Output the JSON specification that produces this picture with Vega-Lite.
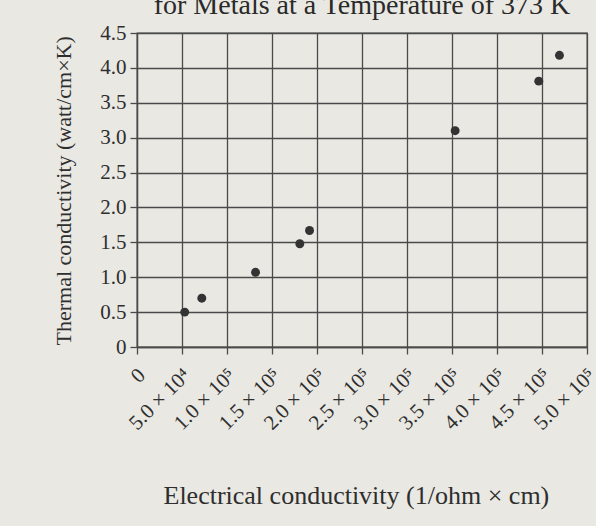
{
  "$schema": "https://vega.github.io/schema/vega-lite/v6.json",
  "width": 450,
  "height": 314,
  "autosize": {"type": "none"},
  "padding": {"left": 137, "top": 33, "right": 9, "bottom": 179},
  "background": "#e9e8e3",
  "title": {
    "text": "for Metals at a Temperature of 373 K",
    "font": "Liberation Serif",
    "fontSize": 28,
    "fontWeight": "normal",
    "color": "#2a2a2a",
    "anchor": "middle",
    "frame": "group",
    "baseline": "alphabetic",
    "offset": -20
  },
  "config": {
    "view": {"stroke": "#4a4a4a", "strokeWidth": 1.3},
    "axis": {
      "labelFont": "Liberation Serif",
      "titleFont": "Liberation Serif",
      "labelColor": "#2e2e2e",
      "titleColor": "#2e2e2e",
      "labelFontSize": 21,
      "titleFontSize": 26,
      "titleFontWeight": "normal",
      "gridColor": "#4a4a4a",
      "gridOpacity": 1,
      "gridWidth": 1.3,
      "domainColor": "#4a4a4a",
      "domainWidth": 1.3,
      "tickColor": "#4a4a4a",
      "tickWidth": 1.3,
      "tickSize": 7
    }
  },
  "data": {
    "values": [
      {"electrical": 53000, "thermal": 0.50},
      {"electrical": 72000, "thermal": 0.70},
      {"electrical": 131700, "thermal": 1.07},
      {"electrical": 180900, "thermal": 1.48},
      {"electrical": 191700, "thermal": 1.67},
      {"electrical": 353500, "thermal": 3.10},
      {"electrical": 446400, "thermal": 3.81},
      {"electrical": 469400, "thermal": 4.18}
    ]
  },
  "mark": {"type": "circle", "size": 80, "color": "#333333", "opacity": 1},
  "encoding": {
    "x": {
      "field": "electrical",
      "type": "quantitative",
      "scale": {"domain": [0, 500000], "nice": false, "zero": true},
      "axis": {
        "values": [0, 50000, 100000, 150000, 200000, 250000, 300000, 350000, 400000, 450000, 500000],
        "labelExpr": "datum.value == 0 ? '0' : (datum.value < 100000 ? '5.0 × 10⁴' : format(datum.value / 100000, '.1f') + ' × 10⁵')",
        "labelAngle": -45,
        "labelFontSize": 21,
        "labelPadding": 10,
        "labelOffset": -3,
        "labelOverlap": false,
        "labelFlush": false,
        "title": "Electrical conductivity (1/ohm × cm)",
        "titleX": 26,
        "titleY": 156,
        "titleAlign": "left",
        "titleBaseline": "alphabetic",
        "titleAnchor": "start"
      }
    },
    "y": {
      "field": "thermal",
      "type": "quantitative",
      "scale": {"domain": [0, 4.5], "nice": false},
      "axis": {
        "values": [0, 0.5, 1, 1.5, 2, 2.5, 3, 3.5, 4, 4.5],
        "labelExpr": "datum.value == 0 ? '0' : format(datum.value, '.1f')",
        "labelPadding": 4,
        "labelFlush": false,
        "labelOverlap": false,
        "title": "Thermal conductivity (watt/cm×K)",
        "titleFontSize": 22,
        "titleX": -67,
        "titleY": 312,
        "titleAlign": "left",
        "titleBaseline": "alphabetic",
        "titleAngle": -90,
        "titleAnchor": "start"
      }
    }
  }
}
